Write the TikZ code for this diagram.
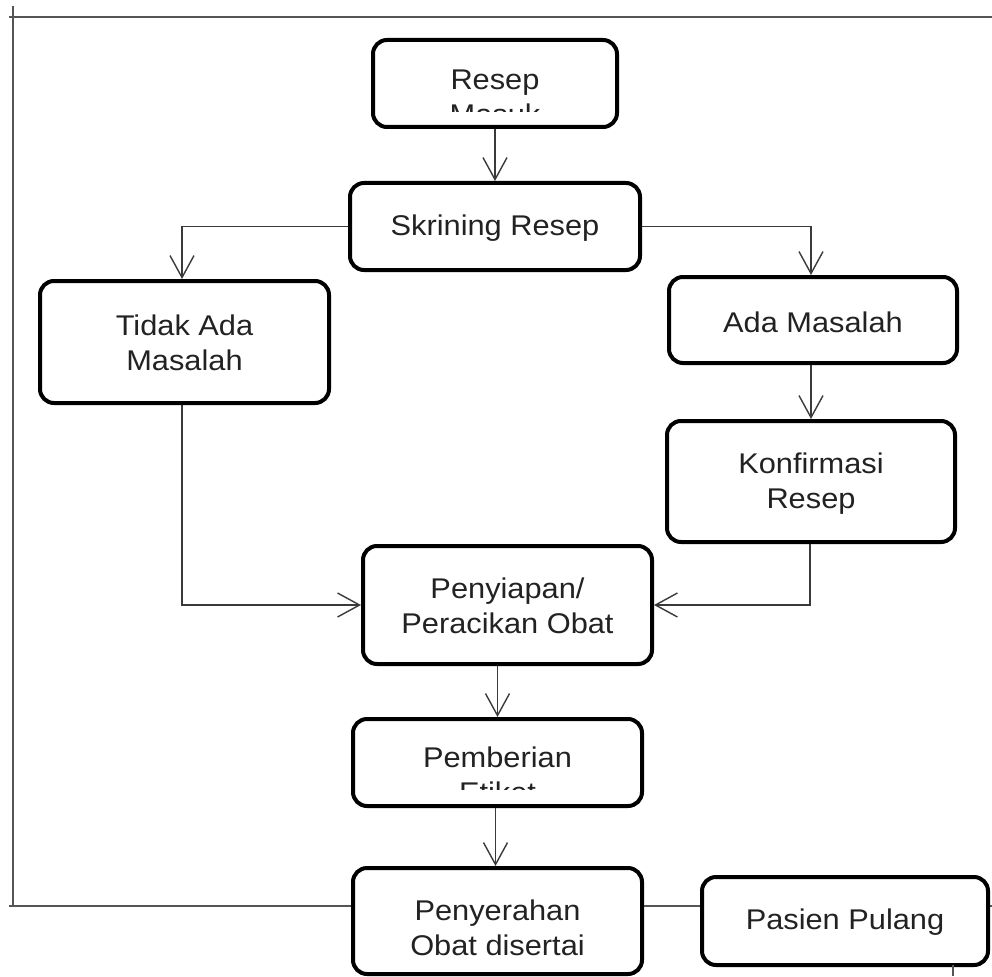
\documentclass[tikz,border=0pt]{standalone}
\usepackage{fontspec}
\newfontfamily\labfont{Liberation Sans}[FakeStretch=1.08]
\usetikzlibrary{arrows.meta}
\definecolor{txt}{HTML}{222222}
\definecolor{lin}{HTML}{3A3A3A}
\definecolor{frm}{HTML}{555555}
\tikzset{
  box/.style={draw=black, line width=4pt, rounded corners=14pt, fill=white, inner sep=0pt},
  lab/.style={text=txt, align=center, font=\labfont\fontsize{28.5}{35}\selectfont, inner sep=0pt},
  conn/.style={draw=lin, line width=1.5pt, -{Straight Barb[length=22pt,width=24pt,line width=1.4pt]}},
  frame/.style={draw=frm, line width=1.6pt}
}
\begin{document}
\begin{tikzpicture}[x=1pt,y=-1pt]
\useasboundingbox (0,0) rectangle (992,976);
% frame lines
\coordinate (tl) at (9,17);
\coordinate (tr) at (992,17);
\coordinate (vt) at (13,6);
\coordinate (lb) at (13,906);
\coordinate (lb0) at (9,906);
\coordinate (rb) at (992,906);
\coordinate (st) at (953,965);
\coordinate (sb) at (953,976);
\draw[frame] (tl) -- (tr);
\draw[frame] (vt) -- (lb);

% boxes
\node[box, minimum width=244pt, minimum height=87pt] (resep) at (495,83.5) {};
\node[box, minimum width=290pt, minimum height=87pt] (skrining) at (495,226.5) {};
\node[box, minimum width=289pt, minimum height=122pt] (tidak) at (184.5,342) {};
\node[box, minimum width=288pt, minimum height=86pt] (ada) at (813,320) {};
\node[box, minimum width=288pt, minimum height=121pt] (konf) at (811,481.5) {};
\node[box, minimum width=289pt, minimum height=118pt] (penyiapan) at (507.5,605) {};
\node[box, minimum width=289pt, minimum height=87pt] (pemberian) at (497.5,762.5) {};
\node[box, minimum width=289pt, minimum height=106pt] (penyerahan) at (497.5,921) {};
\node[box, minimum width=286pt, minimum height=88pt] (pasien) at (845,921) {};

% bottom frame line segments
\draw[frame] (lb0) -- (lb -| penyerahan.west);
\draw[frame] (lb -| penyerahan.east) -- (lb -| pasien.west);
\draw[frame] (lb -| pasien.east) -- (rb);
\draw[frame] (st) -- (sb);

% labels
\begin{scope}
\clip (377,44) rectangle (613,112);
\node[lab] (tresep) at (495,97) {Resep\\Masuk};
\end{scope}
\node[lab] (tskrining) at (495,228) {Skrining Resep};
\node[lab] (ttidak) at (184.5,343) {Tidak Ada\\Masalah};
\node[lab] (tada) at (813,322) {Ada Masalah};
\node[lab] (tkonf) at (811,484) {Konfirmasi\\Resep};
\node[lab] (tpenyiapan) at (507.5,606) {Penyiapan/\\Peracikan Obat};
\begin{scope}
\clip (357,723) rectangle (638,789);
\node[lab] (tpemberian) at (497.5,775) {Pemberian\\Etiket};
\end{scope}
\node[lab] (tpenyerahan) at (497.5,928) {Penyerahan\\Obat disertai};
\node[lab] (tpasien) at (845,922) {Pasien Pulang};

% connectors
\draw[conn] (resep.south) -- (skrining.north);
\draw[conn] (skrining.west) -| ([xshift=-2.5pt]tidak.north);
\draw[conn] (skrining.east) -| ([xshift=-2pt]ada.north);
\draw[conn] ([xshift=-2pt]ada.south) -- ([xshift=0pt]konf.north);
\draw[conn] ([xshift=-2.5pt]tidak.south) |- (penyiapan.west);
\draw[conn] ([xshift=-1pt]konf.south) |- (penyiapan.east);
\draw[conn] ([xshift=-10pt]penyiapan.south) -- (pemberian.north);
\draw[conn] ([xshift=-2pt]pemberian.south) -- ([xshift=-2pt]penyerahan.north);
\end{tikzpicture}
\end{document}
